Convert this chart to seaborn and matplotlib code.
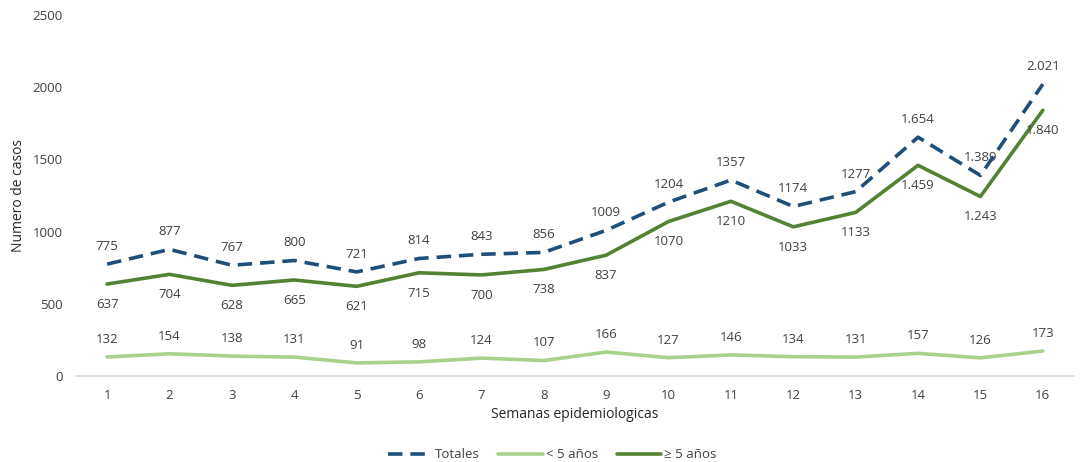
import numpy as np
import pandas as pd
import seaborn as sns
import matplotlib.pyplot as plt

# Casos por semana epidemiologica

semanas = list(range(1, 17))
totales = [775, 877, 767, 800, 721, 814, 843, 856, 1009, 1204, 1357, 1174, 1277, 1654, 1389, 2021]
menores_5 = [132, 154, 138, 131, 91, 98, 124, 107, 166, 127, 146, 134, 131, 157, 126, 173]
mayores_5 = [637, 704, 628, 665, 621, 715, 700, 738, 837, 1070, 1210, 1033, 1133, 1459, 1243, 1840]

# labels as printed in the source (some with thousands separator)
lbl_totales = ["775", "877", "767", "800", "721", "814", "843", "856", "1009", "1204",
               "1357", "1174", "1277", "1.654", "1.389", "2.021"]
lbl_menores = [str(v) for v in menores_5]
lbl_mayores = ["637", "704", "628", "665", "621", "715", "700", "738", "837", "1070",
               "1210", "1033", "1133", "1.459", "1.243", "1.840"]

c_tot = "#1F4E79"
c_men = "#A9D18E"
c_may = "#548235"

sns.set_style("white")
plt.rcParams["font.family"] = ["Open Sans", "DejaVu Sans"]

fig = plt.figure(figsize=(10.82, 4.62), dpi=100)
ax = fig.add_axes([0.0702, 0.1861, 0.9224, 0.7814])

df = pd.DataFrame({"semana": semanas, "tot": totales, "men": menores_5, "may": mayores_5})

sns.lineplot(data=df, x="semana", y="tot", ax=ax, color=c_tot, lw=2.6, label="Totales")
ax.lines[-1].set_dashes([4.0, 2.2])
sns.lineplot(data=df, x="semana", y="men", ax=ax, color=c_men, lw=2.6, label="< 5 años")
sns.lineplot(data=df, x="semana", y="may", ax=ax, color=c_may, lw=2.6, label="≥ 5 años")

lab_kw = dict(ha="center", fontsize=9.5, color="#404040")
for x, v, t in zip(semanas, totales, lbl_totales):
    ax.annotate(t, (x, v), xytext=(0, 8), textcoords="offset points", va="bottom", **lab_kw)
for x, v, t in zip(semanas, menores_5, lbl_menores):
    ax.annotate(t, (x, v), xytext=(0, 8), textcoords="offset points", va="bottom", **lab_kw)
for x, v, t in zip(semanas, mayores_5, lbl_mayores):
    ax.annotate(t, (x, v), xytext=(0, -10), textcoords="offset points", va="top", **lab_kw)

ax.set_xlim(0.5, 16.5)
ax.set_ylim(0, 2500)
ax.set_xticks(semanas)
ax.set_yticks(range(0, 2501, 500))
ax.tick_params(axis="both", length=0, labelsize=9.5, labelcolor="#404040")
ax.tick_params(axis="y", pad=9.5)
ax.tick_params(axis="x", pad=9)

for s in ["top", "right", "left"]:
    ax.spines[s].set_visible(False)
ax.spines["bottom"].set_color("#D9D9D9")
ax.spines["bottom"].set_linewidth(1.2)

ax.set_xlabel("Semanas epidemiologicas", fontsize=10, color="#262626", labelpad=4)
ax.set_ylabel("Numero de casos", fontsize=10, color="#262626", labelpad=5)

leg = ax.legend(loc="center", bbox_to_anchor=(0.477, -0.218), ncol=3, frameon=False,
                fontsize=9.5, handlelength=3.4, columnspacing=1.4, handletextpad=0.2)
for t in leg.get_texts():
    t.set_color("#404040")

fig.savefig("out.png", dpi=100)
